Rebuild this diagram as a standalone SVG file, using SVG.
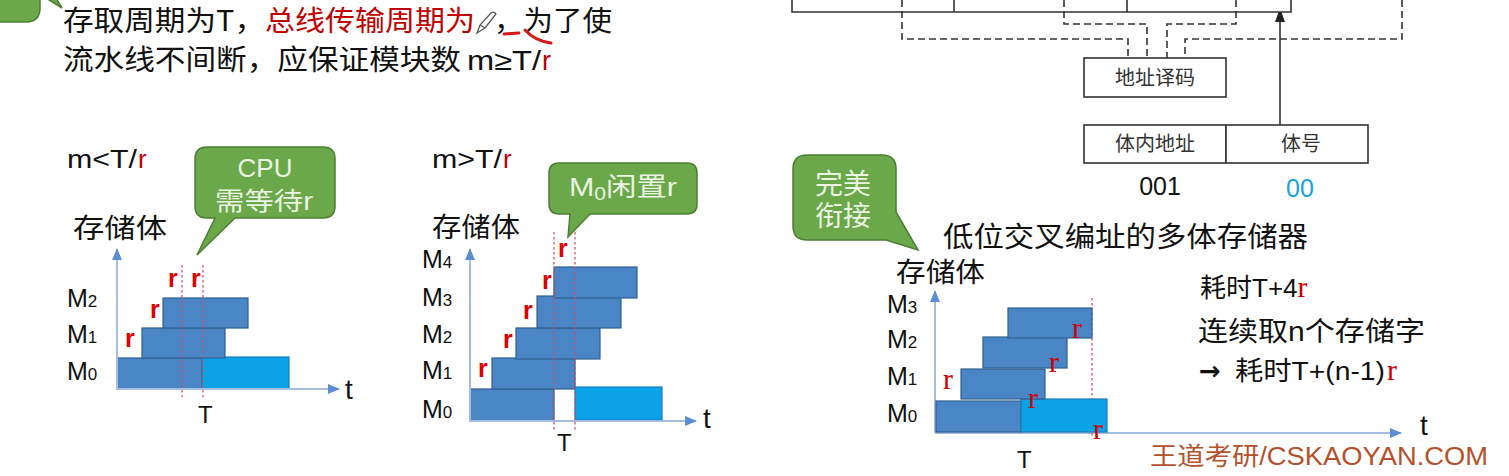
<svg xmlns="http://www.w3.org/2000/svg" width="1509" height="476" viewBox="0 0 1509 476">
<defs>
<style>
.t{font-family:"Liberation Sans","Noto Sans CJK SC",sans-serif;fill:#111;}
.cn{font-family:"Noto Sans CJK SC","Liberation Sans",sans-serif;fill:#111;}
.red{fill:#c00000;}
.rs{font-family:"Liberation Sans",sans-serif;font-weight:bold;font-size:25px;fill:#e00000;}
.rt{font-family:"Liberation Serif",serif;font-size:30px;fill:#d00000;}
.ml{font-family:"Liberation Sans",sans-serif;font-size:25px;fill:#111;}
.bub{fill:#6aa84a;stroke:#4d7d33;stroke-width:1.5;}
.bt{font-family:"Liberation Sans","Noto Sans CJK SC",sans-serif;fill:#eaf5e2;}
.dk{fill:#4a85c6;stroke:#2f5f92;stroke-width:1.2;}
.lt{fill:#0aa3e8;stroke:#1e7cb8;stroke-width:1.2;}
.ax{stroke:#a4bde0;stroke-width:2;fill:none;}
.rd{stroke:#d94a66;stroke-width:1.5;stroke-dasharray:2.5 2.5;stroke-opacity:0.85;fill:none;}
.box{fill:#fff;stroke:#333;stroke-width:1.6;}
.ln{stroke:#333;stroke-width:1.6;fill:none;}
.ds{stroke:#333;stroke-width:1.6;stroke-dasharray:7 4;fill:none;}
.bx{font-family:"Noto Sans CJK SC",sans-serif;font-size:20px;fill:#333;}
</style>
<marker id="ah" markerWidth="12" markerHeight="10" refX="11" refY="5" orient="auto" markerUnits="userSpaceOnUse">
<path d="M0,0 L12,5 L0,10 Z" fill="#5b8fd1"/>
</marker>
<marker id="ak" markerWidth="10" markerHeight="14" refX="9" refY="5" orient="auto" markerUnits="userSpaceOnUse">
<path d="M0,0 L14,5 L0,10 Z" fill="#222"/>
</marker>
</defs>
<rect width="1509" height="476" fill="#fff"/>

<!-- top-left bubble fragment and heading -->
<g id="corner-bubble">
<path class="bub" d="M-10,-10 H40 V8 Q40,22 26,22 H-10 Z"/>
<path class="bub" d="M46,-2 L62,8 L56,-2 Z"/>
</g>
<g id="heading">
<text class="cn" x="63" y="31" font-size="28" textLength="202" lengthAdjust="spacingAndGlyphs">存取周期为T，</text>
<text class="cn red" x="265" y="31" font-size="28" textLength="210" lengthAdjust="spacingAndGlyphs">总线传输周期为</text>
<path d="M477,33 L480,25 L491,13 Q494,11 496,14 L485,28 Z M480,25 L485,28" fill="#fff" stroke="#555" stroke-width="1.3"/>
<text class="cn" x="494" y="31" font-size="28" textLength="118" lengthAdjust="spacingAndGlyphs">，为了使</text>
<path d="M504,34 L519,33 M525,30 Q535,41 551,43" fill="none" stroke="#d81818" stroke-width="3" stroke-linecap="round"/>
<text class="cn" x="63" y="70" font-size="28" textLength="398" lengthAdjust="spacingAndGlyphs">流水线不间断，应保证模块数</text>
<text class="t" x="467" y="70" font-size="27" textLength="74" lengthAdjust="spacingAndGlyphs">m≥T/</text>
<text class="t red" x="542" y="70" font-size="27">r</text>
</g>

<!-- left chart: m<T/r -->
<g id="chart-left">
<text class="t" x="67" y="168" font-size="26" textLength="70" lengthAdjust="spacingAndGlyphs">m&lt;T/</text>
<text class="t red" x="138" y="168" font-size="26">r</text>
<text class="cn" x="73" y="238" font-size="27" textLength="94" lengthAdjust="spacingAndGlyphs">存储体</text>
<text class="ml" x="67" y="307">M<tspan font-size="17">2</tspan></text>
<text class="ml" x="67" y="343">M<tspan font-size="17">1</tspan></text>
<text class="ml" x="67" y="380">M<tspan font-size="17">0</tspan></text>
<rect class="dk" x="117" y="358" width="85" height="31"/>
<rect class="lt" x="202" y="357" width="87" height="32"/>
<rect class="dk" x="142" y="328" width="83" height="30"/>
<rect class="dk" x="163" y="298" width="85" height="30"/>
<text class="rs" x="125" y="347">r</text>
<text class="rs" x="150" y="318">r</text>
<text class="rs" x="168" y="287">r</text>
<text class="rs" x="191" y="287">r</text>
<text class="t" x="198" y="423" font-size="24">T</text>
<text class="t" x="345" y="399" font-size="28">t</text>
</g>
<g id="bubble-cpu">
<path class="bub" d="M207,147 H323 Q335,147 335,159 V206 Q335,218 323,218 H235 L197,255 L215,218 H207 Q195,218 195,206 V159 Q195,147 207,147 Z"/>
<text class="bt" x="265" y="177" font-size="26" text-anchor="middle">CPU</text>
<text class="bt" x="215" y="210" font-size="25" textLength="98" lengthAdjust="spacingAndGlyphs">需等待r</text>
</g>

<!-- middle chart: m>T/r -->
<g id="chart-mid">
<text class="t" x="432" y="168" font-size="26" textLength="70" lengthAdjust="spacingAndGlyphs">m&gt;T/</text>
<text class="t red" x="503" y="168" font-size="26">r</text>
<text class="cn" x="432" y="237" font-size="27" textLength="88" lengthAdjust="spacingAndGlyphs">存储体</text>
<text class="ml" x="422" y="268">M<tspan font-size="17">4</tspan></text>
<text class="ml" x="422" y="306">M<tspan font-size="17">3</tspan></text>
<text class="ml" x="422" y="343">M<tspan font-size="17">2</tspan></text>
<text class="ml" x="422" y="379">M<tspan font-size="17">1</tspan></text>
<text class="ml" x="422" y="418">M<tspan font-size="17">0</tspan></text>
<rect class="dk" x="470" y="389" width="84" height="32"/>
<rect class="lt" x="575" y="387" width="87" height="33"/>
<rect class="dk" x="492" y="358" width="83" height="31"/>
<rect class="dk" x="516" y="328" width="84" height="31"/>
<rect class="dk" x="537" y="296" width="84" height="32"/>
<rect class="dk" x="554" y="267" width="83" height="31"/>
<text class="rs" x="478" y="377">r</text>
<text class="rs" x="503" y="348">r</text>
<text class="rs" x="523" y="319">r</text>
<text class="rs" x="542" y="289">r</text>
<text class="rs" x="558" y="257">r</text>
<text class="t" x="557" y="451" font-size="24">T</text>
<text class="t" x="703" y="428" font-size="28">t</text>
</g>
<g id="bubble-m0">
<path class="bub" d="M559,163 H687 Q697,163 697,173 V204 Q697,214 687,214 H590 L568,237 L570,214 H559 Q549,214 549,204 V173 Q549,163 559,163 Z"/>
<text class="bt" x="569" y="196" font-size="26" textLength="108" lengthAdjust="spacingAndGlyphs">M<tspan font-size="18" dy="4">0</tspan><tspan dy="-4" font-family="Noto Sans CJK SC">闲置</tspan>r</text>
</g>

<!-- right: low-order interleaved memory -->
<g id="module-row">
<path class="ln" d="M792,0 V12 H1291 V0 M954,0 V12 M1127,0 V12"/>
</g>
<g id="decoder">
<rect class="box" x="1084" y="58" width="142" height="39"/>
<text class="bx" x="1155" y="85" text-anchor="middle">地址译码</text>
</g>
<g id="address-reg">
<rect class="box" x="1084" y="125" width="142" height="38"/>
<rect class="box" x="1226" y="125" width="142" height="38"/>
<text class="bx" x="1155" y="151" text-anchor="middle">体内地址</text>
<text class="bx" x="1301" y="151" text-anchor="middle">体号</text>
<text class="t" x="1160" y="195" font-size="25" text-anchor="middle">001</text>
<text class="t" x="1300" y="197" font-size="25" text-anchor="middle" style="fill:#1a9fe0">00</text>
</g>
<g id="connectors">
<path class="ds" d="M902,0 V39 H1128 V58"/>
<path class="ds" d="M1064,0 V24 H1147 V58"/>
<path class="ds" d="M1236,0 V24 H1167 V58"/>
<path class="ds" d="M1402,0 V39 H1185 V58"/>
<line class="ln" x1="1280" y1="125" x2="1280" y2="13" marker-end="url(#ak)"/>
<line class="ax" x1="117" y1="389" x2="117" y2="249" marker-end="url(#ah)"/>
<line class="ax" x1="117" y1="389" x2="339" y2="389" marker-end="url(#ah)"/>
<line class="ax" x1="470" y1="421" x2="470" y2="249" marker-end="url(#ah)"/>
<line class="ax" x1="470" y1="421" x2="696" y2="421" marker-end="url(#ah)"/>
<line class="ax" x1="935" y1="433" x2="935" y2="291" marker-end="url(#ah)"/>
<line class="ax" x1="935" y1="433" x2="1401" y2="433" marker-end="url(#ah)"/>
<line class="rd" x1="182" y1="265" x2="182" y2="397"/>
<line class="rd" x1="203" y1="265" x2="203" y2="397"/>
<line class="rd" x1="554" y1="232" x2="554" y2="430"/>
<line class="rd" x1="575" y1="232" x2="575" y2="430"/>
<line class="rd" x1="1092" y1="298" x2="1092" y2="437"/>
</g>
<g id="bubble-perfect">
<path class="bub" d="M807,155 H882 Q896,155 896,169 V212 L918,250 L886,240 H807 Q793,240 793,226 V169 Q793,155 807,155 Z"/>
<text class="bt" x="843" y="194" font-size="28" text-anchor="middle" font-family="Noto Sans CJK SC">完美</text>
<text class="bt" x="843" y="226" font-size="28" text-anchor="middle" font-family="Noto Sans CJK SC">衔接</text>
</g>
<g id="chart-right">
<text class="cn" x="943" y="247" font-size="28" textLength="365" lengthAdjust="spacingAndGlyphs">低位交叉编址的多体存储器</text>
<text class="cn" x="896" y="282" font-size="27" textLength="89" lengthAdjust="spacingAndGlyphs">存储体</text>
<text class="ml" x="887" y="313">M<tspan font-size="17">3</tspan></text>
<text class="ml" x="887" y="348">M<tspan font-size="17">2</tspan></text>
<text class="ml" x="887" y="385">M<tspan font-size="17">1</tspan></text>
<text class="ml" x="887" y="422">M<tspan font-size="17">0</tspan></text>
<rect class="dk" x="936" y="401" width="85" height="31"/>
<rect class="lt" x="1021" y="399" width="86" height="33"/>
<rect class="dk" x="961" y="369" width="84" height="30"/>
<rect class="dk" x="983" y="337" width="84" height="31"/>
<rect class="dk" x="1008" y="308" width="84" height="30"/>
<text class="rt" x="943" y="389">r</text>
<text class="rt" x="1028" y="408">r</text>
<text class="rt" x="1049" y="372">r</text>
<text class="rt" x="1072" y="338">r</text>
<text class="rt" x="1093" y="439">r</text>
<text class="t" x="1017" y="468" font-size="24">T</text>
<text class="t" x="1420" y="435" font-size="28">t</text>
</g>
<g id="notes">
<text class="t" x="1200" y="297" font-size="26">耗时T+4<tspan style="font-family:'Liberation Serif',serif;font-size:30px;fill:#d00000">r</tspan></text>
<text class="t" x="1198" y="341" font-size="27" textLength="227" lengthAdjust="spacingAndGlyphs">连续取n个存储字</text>
<text x="1199" y="380" font-size="26" style="font-family:'DejaVu Sans',sans-serif;font-weight:bold;fill:#111">→</text>
<text class="t" x="1235" y="380" font-size="26" textLength="150" lengthAdjust="spacingAndGlyphs">耗时T+(n-1)</text>
<text class="rt" x="1387" y="380">r</text>
<text x="1150" y="465" font-size="25" textLength="338" lengthAdjust="spacingAndGlyphs" style="font-family:'Liberation Sans','Noto Sans CJK SC',sans-serif;fill:#b5522e">王道考研/CSKAOYAN.COM</text>
</g>
</svg>
